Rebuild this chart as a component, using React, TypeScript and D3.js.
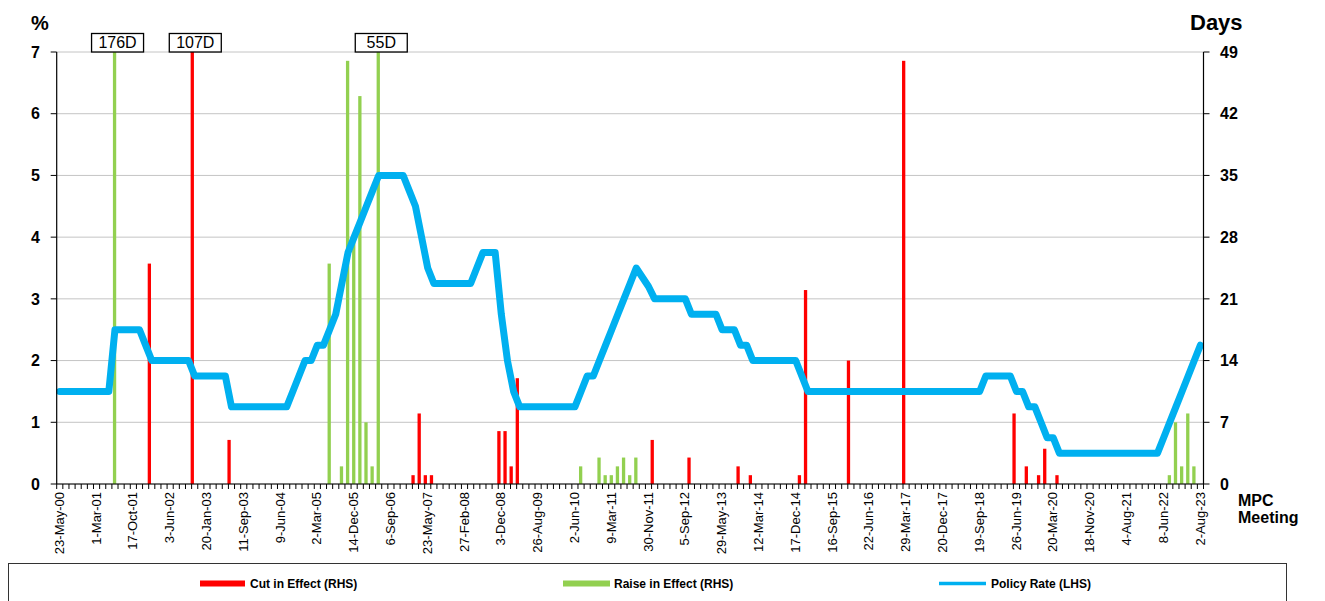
import React from "react";
import * as d3 from "d3";

// ---------- DATA ----------
// MPC meetings are category slots 0..186; tick labels every 6th meeting
const tickLabels: string[] = [
  "23-May-00", "1-Mar-01", "17-Oct-01", "3-Jun-02", "20-Jan-03", "11-Sep-03",
  "9-Jun-04", "2-Mar-05", "14-Dec-05", "6-Sep-06", "23-May-07", "27-Feb-08",
  "3-Dec-08", "26-Aug-09", "2-Jun-10", "9-Mar-11", "30-Nov-11", "5-Sep-12",
  "29-May-13", "12-Mar-14", "17-Dec-14", "16-Sep-15", "22-Jun-16", "29-Mar-17",
  "20-Dec-17", "19-Sep-18", "26-Jun-19", "20-Mar-20", "18-Nov-20", "4-Aug-21",
  "8-Jun-22", "2-Aug-23",
];
const labelEvery = 6;

// Policy rate (LHS, %) at each MPC meeting
const policyRate: number[] = [
  1.5, 1.5, 1.5, 1.5, 1.5, 1.5, 1.5, 1.5, 1.5, 2.5,
  2.5, 2.5, 2.5, 2.5, 2.25, 2.0, 2.0, 2.0, 2.0, 2.0,
  2.0, 2.0, 1.75, 1.75, 1.75, 1.75, 1.75, 1.75, 1.25, 1.25,
  1.25, 1.25, 1.25, 1.25, 1.25, 1.25, 1.25, 1.25, 1.5, 1.75,
  2.0, 2.0, 2.25, 2.25, 2.5, 2.75, 3.25, 3.75, 4.0, 4.25,
  4.5, 4.75, 5.0, 5.0, 5.0, 5.0, 5.0, 4.75, 4.5, 4.0,
  3.5, 3.25, 3.25, 3.25, 3.25, 3.25, 3.25, 3.25, 3.5, 3.75,
  3.75, 3.75, 2.75, 2.0, 1.5, 1.25, 1.25, 1.25, 1.25, 1.25,
  1.25, 1.25, 1.25, 1.25, 1.25, 1.5, 1.75, 1.75, 2.0, 2.25,
  2.5, 2.75, 3.0, 3.25, 3.5, 3.35, 3.2, 3.0, 3.0, 3.0,
  3.0, 3.0, 3.0, 2.75, 2.75, 2.75, 2.75, 2.75, 2.5, 2.5,
  2.5, 2.25, 2.25, 2.0, 2.0, 2.0, 2.0, 2.0, 2.0, 2.0,
  2.0, 1.75, 1.5, 1.5, 1.5, 1.5, 1.5, 1.5, 1.5, 1.5,
  1.5, 1.5, 1.5, 1.5, 1.5, 1.5, 1.5, 1.5, 1.5, 1.5,
  1.5, 1.5, 1.5, 1.5, 1.5, 1.5, 1.5, 1.5, 1.5, 1.5,
  1.5, 1.75, 1.75, 1.75, 1.75, 1.75, 1.5, 1.5, 1.25, 1.25,
  1.0, 0.75, 0.75, 0.5, 0.5, 0.5, 0.5, 0.5, 0.5, 0.5,
  0.5, 0.5, 0.5, 0.5, 0.5, 0.5, 0.5, 0.5, 0.5, 0.5,
  0.75, 1.0, 1.25, 1.5, 1.75, 2.0, 2.25,
];

// Cut in effect (RHS, days): meeting slot and number of days
const cutMeeting: number[] = [15, 22, 28, 58, 59, 60, 61, 72, 73, 74, 75, 97, 103, 111, 113, 121, 122, 129, 138, 156, 158, 160, 161, 163];
const cutDays: number[] = [25, 107, 5, 1, 8, 1, 1, 6, 6, 2, 12, 5, 3, 2, 1, 1, 22, 14, 48, 8, 2, 1, 4, 1];

// Raise in effect (RHS, days)
const raiseMeeting: number[] = [9, 44, 46, 47, 48, 49, 50, 51, 52, 85, 88, 89, 90, 91, 92, 93, 94, 181, 182, 183, 184, 185];
const raiseDays: number[] = [176, 25, 2, 48, 28, 44, 7, 2, 55, 2, 3, 1, 1, 2, 3, 1, 3, 1, 7, 2, 8, 2];

const leftTicks: number[] = [0, 1, 2, 3, 4, 5, 6, 7];
const rightTicks: number[] = [0, 7, 14, 21, 28, 35, 42, 49];

const legendItems = ["Cut in Effect (RHS)", "Raise in Effect (RHS)", "Policy Rate (LHS)"];

// ---------- STYLE ----------
const W = 1325;
const H = 601;
const FONT = "'Liberation Sans', Arial, sans-serif";
const RED = "#FF0000";
const GREEN = "#92D050";
const BLUE = "#00B0F0";

export default function App() {
  const left = 56.7;
  const right = 1203.5;
  const top = 52;
  const bottom = 484;
  const n = policyRate.length;

  const x = d3.scaleBand<number>().domain(d3.range(n)).range([left, right]).padding(0);
  const bw = x.bandwidth();
  const cx = (i: number) => (x(i) as number) + bw / 2;
  const yL = d3.scaleLinear().domain([0, 7]).range([bottom, top]);
  const yR = d3.scaleLinear().domain([0, 49]).range([bottom, top]);
  const maxDays = 49;

  const line = d3
    .line<number>()
    .x((_, i) => cx(i))
    .y((d) => yL(d));

  const barW = 3.3;
  const redOff = -2.4;
  const greenOff = -0.4;

  const clipped: { xc: number; label: string }[] = [];
  cutMeeting.forEach((m, k) => {
    if (cutDays[k] > maxDays) clipped.push({ xc: cx(m) + redOff, label: `${cutDays[k]}D` });
  });
  raiseMeeting.forEach((m, k) => {
    if (raiseDays[k] > maxDays) clipped.push({ xc: cx(m) + greenOff, label: `${raiseDays[k]}D` });
  });

  const boundaries = d3.range(n + 1).map((i) => left + i * bw);

  const legendX = [200, 563, 939];

  return (
    <div style={{ position: "fixed", left: 0, top: 0, width: W, height: H, background: "#fff" }}>
      <svg width={W} height={H} style={{ display: "block", fontFamily: FONT }}>
        <rect x={0} y={0} width={W} height={H} fill="#ffffff" />

        {/* gridlines */}
        {leftTicks.map((t) => (
          <line key={"g" + t} x1={left} x2={right} y1={yL(t)} y2={yL(t)} stroke="#c4c4c4" strokeWidth={1} />
        ))}

        {/* bars */}
        {cutMeeting.map((m, k) => {
          const d = Math.min(cutDays[k], maxDays);
          return (
            <rect key={"c" + k} x={cx(m) + redOff - barW / 2} y={yR(d)} width={barW} height={yR(0) - yR(d)} fill={RED} />
          );
        })}
        {raiseMeeting.map((m, k) => {
          const d = Math.min(raiseDays[k], maxDays);
          return (
            <rect key={"r" + k} x={cx(m) + greenOff - barW / 2} y={yR(d)} width={barW} height={yR(0) - yR(d)} fill={GREEN} />
          );
        })}

        {/* policy rate line */}
        <path d={line(policyRate) || ""} fill="none" stroke={BLUE} strokeWidth={7} strokeLinejoin="round" strokeLinecap="round" />

        {/* axes */}
        <line x1={left} x2={left} y1={top} y2={bottom} stroke="#000" strokeWidth={1.2} />
        <line x1={right} x2={right} y1={top} y2={bottom} stroke="#000" strokeWidth={1.2} />
        <line x1={left} x2={right} y1={bottom} y2={bottom} stroke="#000" strokeWidth={1.2} />

        {/* left ticks */}
        {leftTicks.map((t) => (
          <g key={"lt" + t}>
            <line x1={left - 6} x2={left} y1={yL(t)} y2={yL(t)} stroke="#000" />
            <text x={40} y={yL(t)} dy="0.36em" textAnchor="end" fontSize={16} fontWeight="bold" fill="#000">
              {t}
            </text>
          </g>
        ))}
        {/* right ticks */}
        {rightTicks.map((t) => (
          <g key={"rt" + t}>
            <line x1={right} x2={right + 6} y1={yR(t)} y2={yR(t)} stroke="#000" />
            <text x={1220} y={yR(t)} dy="0.36em" textAnchor="start" fontSize={16} fontWeight="bold" fill="#000">
              {t}
            </text>
          </g>
        ))}

        {/* x tick marks */}
        {boundaries.map((bx, i) => (
          <line key={"xt" + i} x1={bx} x2={bx} y1={bottom} y2={bottom + 5} stroke="#000" strokeWidth={1} />
        ))}
        {/* x labels */}
        {tickLabels.map((lab, k) => {
          const px = cx(k * labelEvery) - 0.6;
          return (
            <text key={"xl" + k} transform={`translate(${px},492) rotate(-90)`} dy="0.36em" textAnchor="end" fontSize={13} fill="#000">
              {lab}
            </text>
          );
        })}

        {/* axis titles */}
        <text x={31} y={30} fontSize={20} fontWeight="bold" fill="#000">%</text>
        <text x={1190} y={30} fontSize={22} fontWeight="bold" fill="#000">Days</text>
        <text x={1238} y={506} fontSize={16} fontWeight="bold" fill="#000">MPC</text>
        <text x={1238} y={523} fontSize={16} fontWeight="bold" fill="#000">Meeting</text>

        {/* clipped bar labels */}
        {clipped.map((c, k) => (
          <g key={"cl" + k}>
            <rect x={c.xc + 3 - 26} y={33.5} width={52} height={18.5} fill="#fff" stroke="#000" strokeWidth={1.3} />
            <text x={c.xc + 3} y={48} textAnchor="middle" fontSize={16} fill="#000">
              {c.label}
            </text>
          </g>
        ))}

        {/* legend */}
        <rect x={8.5} y={563.5} width={1278} height={60} fill="#fff" stroke="#333" strokeWidth={1} />
        <rect x={legendX[0]} y={580.5} width={45} height={6} fill={RED} />
        <text x={legendX[0] + 50} y={583.5} dy="0.36em" fontSize={12} fontWeight="bold" fill="#000">{legendItems[0]}</text>
        <rect x={legendX[1]} y={580.5} width={47} height={6} fill={GREEN} />
        <text x={legendX[1] + 51} y={583.5} dy="0.36em" fontSize={12} fontWeight="bold" fill="#000">{legendItems[1]}</text>
        <line x1={legendX[2]} x2={legendX[2] + 47} y1={583.5} y2={583.5} stroke={BLUE} strokeWidth={3.5} />
        <text x={legendX[2] + 52} y={583.5} dy="0.36em" fontSize={12} fontWeight="bold" fill="#000">{legendItems[2]}</text>
      </svg>
    </div>
  );
}
